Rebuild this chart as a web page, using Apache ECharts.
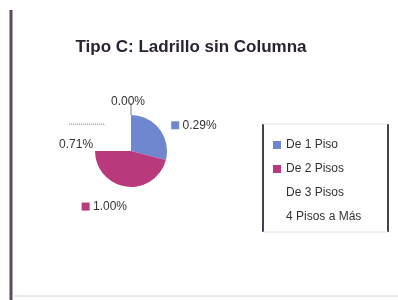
<!DOCTYPE html>
<html>
<head>
<meta charset="utf-8">
<script src="https://cdn.jsdelivr.net/npm/echarts@6/dist/echarts.min.js"></script>
<style>
  html, body { margin: 0; padding: 0; background: #fff; }
  #chart { width: 398px; height: 300px; }
</style>
</head>
<body>
<div id="chart"></div>
<script>
// slice order follows the drawn pie (clockwise from 12 o'clock)
const categories = ['De 1 Piso', 'De 2 Pisos', '4 Pisos a Más', 'De 3 Pisos'];
const legendOrder = ['De 1 Piso', 'De 2 Pisos', 'De 3 Pisos', '4 Pisos a Más'];
const sliceValues = [29, 46, 25, 0];
const labelTexts = ['0.29%', '1.00%', '0.71%', '0.00%'];
const sliceColors = ['#6f87cf', '#b93a7c', '#ffffff', '#ffffff'];

const chart = echarts.init(document.getElementById('chart'));

const font = '"Liberation Sans", Arial, sans-serif';

const lineLen = [6, 20, 2, 12];
const lineLen2 = [2, 2, 36, 0];

const pieData = categories.map((name, i) => ({
  name,
  value: sliceValues[i],
  itemStyle: { color: sliceColors[i] },
  label: {
    formatter: (i < 2 ? '{m' + i + '|} ' : '') + '{t|' + labelTexts[i] + '}'
  },
  labelLine: {
    show: i >= 2,
    length: lineLen[i],
    length2: lineLen2[i],
    lineStyle: { color: '#777', width: 1, type: i === 2 ? 'dotted' : 'solid' }
  }
}));

chart.setOption({
  animation: false,
  title: {
    text: 'Tipo C: Ladrillo sin Columna',
    left: 186,
    top: 34,
    textAlign: 'center',
    textStyle: { fontFamily: font, fontSize: 17, fontWeight: 'bold', color: '#2a2230' }
  },
  legend: {
    orient: 'vertical',
    left: 268,
    top: 134,
    data: legendOrder,
    itemWidth: 8,
    itemHeight: 8,
    itemGap: 12,
    icon: 'rect',
    textStyle: { fontFamily: font, fontSize: 12, color: '#333' }
  },
  graphic: [
    { type: 'line', shape: { x1: 11, y1: 10, x2: 11, y2: 300 }, style: { stroke: '#5a4a5e', lineWidth: 3 } },
    { type: 'line', shape: { x1: 12, y1: 296, x2: 398, y2: 296 }, style: { stroke: '#d4d4d4', lineWidth: 1 } },
    { type: 'line', shape: { x1: 263, y1: 124, x2: 263, y2: 232 }, style: { stroke: '#4a3d4e', lineWidth: 2 } },
    { type: 'line', shape: { x1: 388, y1: 124, x2: 388, y2: 232 }, style: { stroke: '#4a3d4e', lineWidth: 2 } },
    { type: 'line', shape: { x1: 263, y1: 124, x2: 388, y2: 124 }, style: { stroke: '#e2e2e2', lineWidth: 1 } },
    { type: 'line', shape: { x1: 263, y1: 232, x2: 388, y2: 232 }, style: { stroke: '#e2e2e2', lineWidth: 1 } }
  ],
  series: [{
    type: 'pie',
    center: [131, 151],
    radius: 36,
    startAngle: 90,
    clockwise: true,
    avoidLabelOverlap: false,
    stillShowZeroSum: true,
    label: {
      position: 'outside',
      fontFamily: font,
      fontSize: 12,
      color: '#333',
      rich: {
        t: { fontFamily: font, fontSize: 12, color: '#333' },
        m0: { width: 8, height: 8, backgroundColor: sliceColors[0] },
        m1: { width: 8, height: 8, backgroundColor: sliceColors[1] }
      }
    },
    labelLayout: (params) => {
      if (params.dataIndex === 1) return { dx: 10 };
      if (params.dataIndex === 2) return { dx: 30, dy: 21 };
      if (params.dataIndex === 3) return { align: 'center', dx: 2, dy: -1 };
      return {};
    },
    emphasis: { disabled: true },
    data: pieData
  }]
});
</script>
</body>
</html>
